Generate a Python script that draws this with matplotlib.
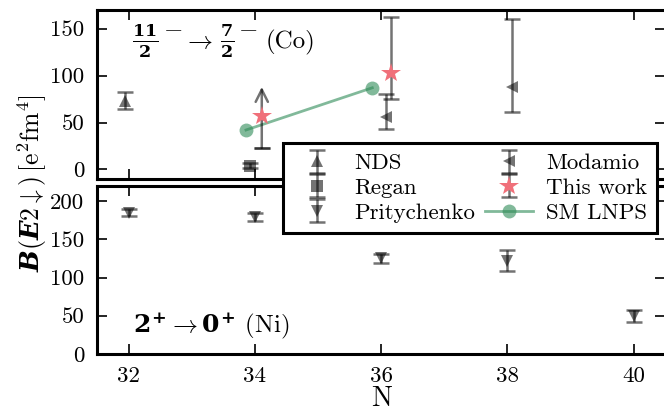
import matplotlib
matplotlib.use('Agg')
import matplotlib.pyplot as plt

plt.rcParams['font.family'] = ['cmr10', 'DejaVu Serif']
plt.rcParams['mathtext.fontset'] = 'custom'
plt.rcParams['mathtext.rm'] = 'cmr10'
plt.rcParams['mathtext.it'] = 'cmmi10'
plt.rcParams['mathtext.bf'] = 'DejaVu Serif:bold'
plt.rcParams['mathtext.bfit'] = 'DejaVu Serif:italic:bold'
plt.rcParams['mathtext.fallback'] = 'cm'
plt.rcParams['axes.unicode_minus'] = False
plt.rcParams['axes.formatter.use_mathtext'] = False
plt.rcParams['font.size'] = 16

# upper panel: 11/2- -> 7/2- in Co
nds_n = [31.94]
nds_val = [73]
nds_err = [9]

regan_n = [33.93]
regan_val = [4]
regan_err = [3]

modamio_n = [36.08, 38.08]
modamio_val = [56, 88]
modamio_lo = [13, 27]
modamio_hi = [24, 72]

work_n = [34.11, 36.16]
work_val = [57, 103]
work_lo = [34, 28]
work_hi = [31, 59]  # first one is a lower limit (arrow up)

lnps_n = [33.86, 35.86]
lnps_val = [42, 87]

# lower panel: 2+ -> 0+ in Ni
prit_n = [32, 34, 36, 38, 40]
prit_val = [185, 179, 125, 122, 50]
prit_err = [5, 5, 6, 14, 8]

x_ticks = [32, 34, 36, 38, 40]

fig = plt.figure(figsize=(6.64, 4.12), dpi=100)
ax1 = fig.add_axes([0.146, 0.566, 0.856, 0.410])
ax2 = fig.add_axes([0.146, 0.141, 0.856, 0.408])

gray = dict(color='k', alpha=0.55, capsize=6, capthick=1.8, elinewidth=1.8,
            linestyle='none')


def no_edge(h):
    # keep caps, drop the darker marker outline
    h[0].set_markeredgewidth(0)
    return h


h_nds = no_edge(ax1.errorbar(nds_n, nds_val, yerr=nds_err, marker='^', markersize=9,
                             label='NDS', **gray))
h_regan = no_edge(ax1.errorbar(regan_n, regan_val, yerr=regan_err, marker='s', markersize=8,
                               label='Regan', **gray))
h_mod = no_edge(ax1.errorbar(modamio_n, modamio_val, yerr=[modamio_lo, modamio_hi], marker='<',
                             markersize=9, label='Modamio', **gray))

# this work: N=36 with full error bar, N=34 lower limit with arrow
ax1.errorbar(work_n[:1], [work_val[0] - work_lo[0]], yerr=0, marker='none', **gray)
ax1.annotate('', xy=(work_n[0], work_val[0] + work_hi[0]),
             xytext=(work_n[0], work_val[0] - work_lo[0]),
             arrowprops=dict(arrowstyle='->', color='k', alpha=0.55, lw=1.8,
                             mutation_scale=22, shrinkA=0, shrinkB=0))
h_work = no_edge(ax1.errorbar(work_n[1:], work_val[1:], yerr=[work_lo[1:], work_hi[1:]],
                              marker='*', color='#f0707a', ecolor=(0, 0, 0, 0.55),
                              markersize=15, linestyle='none', capsize=6, capthick=1.8,
                              elinewidth=1.8, label='This work', zorder=3))
ax1.plot(work_n[:1], work_val[:1], '*', color='#f0707a', markersize=15,
         markeredgewidth=0, zorder=3)
h_lnps, = ax1.plot(lnps_n, lnps_val, '-o', color='seagreen', alpha=0.6, lw=2,
                   markersize=10, markeredgewidth=0, label='SM LNPS')

h_prit = no_edge(ax2.errorbar(prit_n, prit_val, yerr=prit_err, marker='v', markersize=9,
                              label='Pritychenko', **gray))

ax1.set_xlim(31.5, 40.5)
ax2.set_xlim(31.5, 40.5)
ax1.set_ylim(-10, 170)
ax2.set_ylim(0, 220)
ax1.set_yticks([0, 50, 100, 150])
ax2.set_yticks([0, 50, 100, 150, 200])
for ax in (ax1, ax2):
    ax.set_xticks(x_ticks)
    ax.tick_params(direction='in', length=7, width=1.2, top=True, right=True,
                   labelsize=16.5, pad=9)
    for s in ax.spines.values():
        s.set_linewidth(2.2)
ax1.set_xticklabels([])

# 11/2- -> 7/2- (Co), pieced together so the minus signs sit high
kw = dict(transform=ax1.transAxes, fontsize=18, va='center')
ax1.text(0.062, 0.81, r'$\mathbf{\frac{11}{2}}$', **kw)
ax1.text(0.117, 0.885, r'$-$', **kw)
ax1.text(0.152, 0.81, r'$\rightarrow$', **kw)
ax1.text(0.217, 0.81, r'$\mathbf{\frac{7}{2}}$', **kw)
ax1.text(0.249, 0.885, r'$-$', **kw)
ax1.text(0.297, 0.81, '(Co)', **kw)

ax2.text(0.063, 0.17, r'$\mathbf{2}^{\mathbf{+}}\rightarrow \mathbf{0}^{\mathbf{+}}$ (Ni)',
         transform=ax2.transAxes, fontsize=18, va='center')

ax2.set_xlabel('N', fontsize=20, labelpad=0)
fig.text(0.048, 0.555, r'$\mathbfit{B}(\mathbfit{E}2\downarrow)\,[\mathrm{e}^2\mathrm{fm}^4]$',
         rotation=90, va='center', ha='center', fontsize=18.5)

leg = fig.legend([h_nds, h_regan, h_prit, h_mod, h_work, h_lnps],
                 ['NDS', 'Regan', 'Pritychenko', 'Modamio', 'This work', 'SM LNPS'],
                 loc='upper left', bbox_to_anchor=(0.426, 0.653), borderaxespad=0,
                 ncol=2, fontsize=16.5, fancybox=False, framealpha=1, edgecolor='k',
                 borderpad=0.45, labelspacing=0.2, handlelength=2.1,
                 columnspacing=0.45, handletextpad=0.55)
leg.get_frame().set_linewidth(2.2)
leg.set_zorder(10)

fig.savefig('out.png', dpi=100)
